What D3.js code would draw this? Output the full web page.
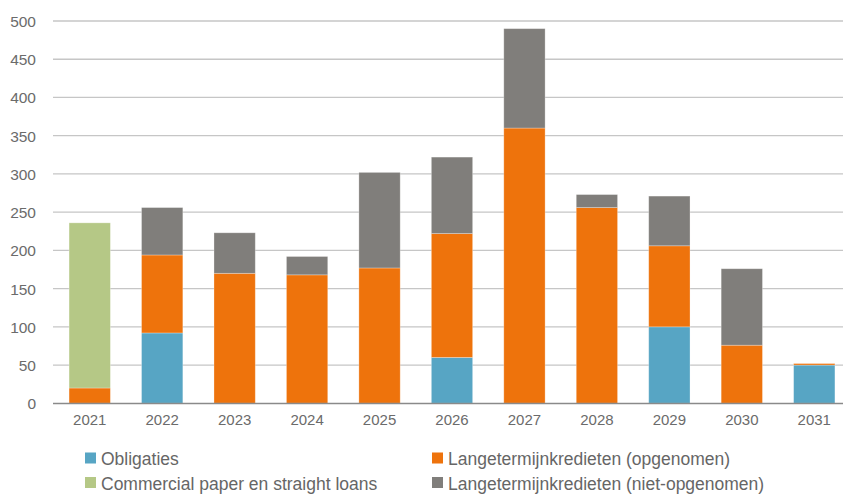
<!DOCTYPE html>
<html><head><meta charset="utf-8">
<script src="https://cdn.jsdelivr.net/npm/d3@7"></script>
<style>
html,body{margin:0;padding:0;background:#fff;overflow:hidden}
text{font-family:"Liberation Sans",Arial,sans-serif}
</style></head>
<body><svg id="c" width="843" height="497"></svg>
<script>
const years = ["2021","2022","2023","2024","2025","2026","2027","2028","2029","2030","2031"];
const obligaties = [0,92,0,0,0,60,0,0,100,0,50];
const opgenomen = [20,102,170,168,177,162,360,256,106,76,2];
const commercialPaper = [216,0,0,0,0,0,0,0,0,0,0];
const nietOpgenomen = [0,62,53,24,125,100,130,17,65,100,0];
const yTicks = [0,50,100,150,200,250,300,350,400,450,500];
const seriesNames = ["Obligaties","Langetermijnkredieten (opgenomen)","Commercial paper en straight loans","Langetermijnkredieten (niet-opgenomen)"];
const colors = ["#57a5c4","#ee730c","#b5c886","#807e7b"];

const keys = ["obl","opg","cp","niet"];
const table = years.map((y,i)=>({year:y, obl:obligaties[i], opg:opgenomen[i], cp:commercialPaper[i], niet:nietOpgenomen[i]}));
const stack = d3.stack().keys(keys)(table);

const svg = d3.select("#c");
const x = d3.scaleBand().domain(years).range([53.5,850.5]).paddingInner(0.43).paddingOuter(0.215);
const y = d3.scaleLinear().domain([0,500]).range([403.3,21]);

// gridlines
svg.append("g").selectAll("line").data(yTicks.filter(t=>t>0)).join("line")
  .attr("x1",53).attr("x2",851).attr("y1",d=>y(d)).attr("y2",d=>y(d))
  .attr("stroke","#c6c6c6").attr("stroke-width",1.3);

// bars
svg.append("g").selectAll("g").data(stack).join("g")
  .attr("fill",(d,i)=>colors[i])
  .selectAll("rect").data(d=>d.filter(p=>p[1]-p[0]>0)).join("rect")
  .attr("x",d=>x(d.data.year)).attr("width",x.bandwidth())
  .attr("y",d=>y(d[1])).attr("height",d=>y(d[0])-y(d[1]))
  .attr("stroke","#ffffff").attr("stroke-opacity",0.35).attr("stroke-width",0.8);

// y axis labels
const yAxis = d3.axisLeft(y).tickValues(yTicks).tickSize(0).tickPadding(0);
const ga = svg.append("g").attr("transform","translate(36,0)").call(yAxis);
ga.select(".domain").remove();
ga.selectAll("text").attr("fill","#6b6b6b").style("font-size","15.5px").attr("dy","0.35em");

// x axis
const xAxis = d3.axisBottom(x).tickSize(0).tickPadding(0);
const gx = svg.append("g").attr("transform","translate(0,403.5)").call(xAxis);
gx.select(".domain").attr("stroke","#8a8a8a").attr("stroke-width",1.6).attr("d","M53,0H851");
gx.selectAll("text").attr("fill","#6b6b6b").style("font-size","15px").attr("dy","0").attr("y",21.5);

// legend
const legendPos = [[85,452.5],[432,452.5],[85,477],[432,477]];
const lg = svg.append("g").selectAll("g").data(seriesNames).join("g")
  .attr("transform",(d,i)=>`translate(${legendPos[i][0]},${legendPos[i][1]})`);
lg.append("rect").attr("width",11).attr("height",11).attr("fill",(d,i)=>colors[i]);
lg.append("text").attr("x",16).attr("y",12.5).text(d=>d).attr("fill","#666666").style("font-size","17.5px");
</script>
</body></html>
